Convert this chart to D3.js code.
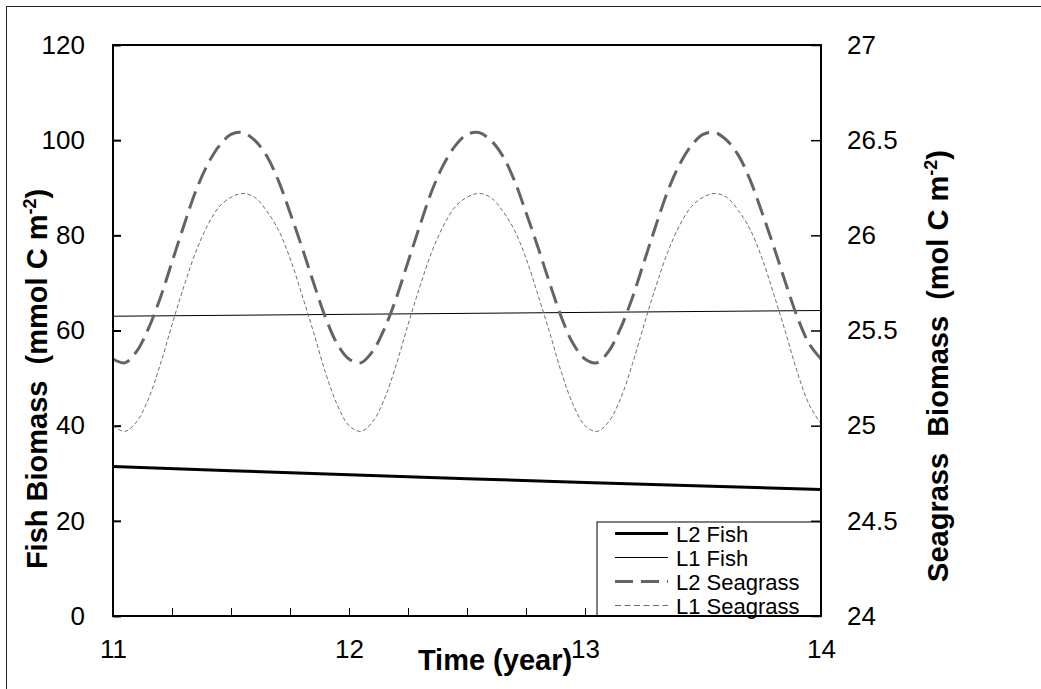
<!DOCTYPE html>
<html>
<head>
<meta charset="utf-8">
<script src="https://cdn.jsdelivr.net/npm/d3@7"></script>
<style>
  html, body { margin: 0; padding: 0; background: #fff; }
  svg { display: block; font-family: Arial, "Liberation Sans", sans-serif; }
  .tick text { font-size: 26px; fill: #000; }
</style>
</head>
<body>
<div id="chart"></div>
<script>
// ---- data ----
const FISH_TIME = [11, 11.5, 12, 12.5, 13, 13.5, 14];
const L2_FISH = [31.4, 30.55, 29.7, 28.85, 28.05, 27.3, 26.6];
const L1_FISH = [63.0, 63.2, 63.4, 63.6, 63.8, 64.0, 64.2];

const GRASS_TIME = [
  11.00, 11.05, 11.10, 11.15, 11.20, 11.25, 11.30, 11.35, 11.40, 11.45,
  11.50, 11.55, 11.60, 11.65, 11.70, 11.75, 11.80, 11.85, 11.90, 11.95,
  12.00, 12.05, 12.10, 12.15, 12.20, 12.25, 12.30, 12.35, 12.40, 12.45,
  12.50, 12.55, 12.60, 12.65, 12.70, 12.75, 12.80, 12.85, 12.90, 12.95,
  13.00, 13.05, 13.10, 13.15, 13.20, 13.25, 13.30, 13.35, 13.40, 13.45,
  13.50, 13.55, 13.60, 13.65, 13.70, 13.75, 13.80, 13.85, 13.90, 13.95,
  14.00
];
const L2_SEAGRASS = [
  25.35, 25.33, 25.39, 25.51, 25.67, 25.86, 26.05, 26.23, 26.37, 26.47,
  26.53, 26.54, 26.50, 26.42, 26.29, 26.12, 25.94, 25.75, 25.57, 25.43,
  25.35, 25.33, 25.39, 25.51, 25.67, 25.86, 26.05, 26.23, 26.37, 26.47,
  26.53, 26.54, 26.50, 26.42, 26.29, 26.12, 25.94, 25.75, 25.57, 25.43,
  25.35, 25.33, 25.39, 25.51, 25.67, 25.86, 26.05, 26.23, 26.37, 26.47,
  26.53, 26.54, 26.50, 26.42, 26.29, 26.12, 25.94, 25.75, 25.57, 25.43,
  25.35
];
const L1_SEAGRASS = [
  25.00, 24.97, 25.02, 25.14, 25.32, 25.53, 25.73, 25.91, 26.05, 26.15,
  26.20, 26.22, 26.20, 26.13, 26.03, 25.88, 25.69, 25.49, 25.28, 25.11,
  25.00, 24.97, 25.02, 25.14, 25.32, 25.53, 25.73, 25.91, 26.05, 26.15,
  26.20, 26.22, 26.20, 26.13, 26.03, 25.88, 25.69, 25.49, 25.28, 25.11,
  25.00, 24.97, 25.02, 25.14, 25.32, 25.53, 25.73, 25.91, 26.05, 26.15,
  26.20, 26.22, 26.20, 26.13, 26.03, 25.88, 25.69, 25.49, 25.28, 25.11,
  25.01
];

const X_TICKS = [11, 11.25, 11.5, 11.75, 12, 12.25, 12.5, 12.75, 13, 13.25, 13.5, 13.75, 14];
const YL_TICKS = [0, 20, 40, 60, 80, 100, 120];
const YR_TICKS = [24, 24.5, 25, 25.5, 26, 26.5, 27];

const LEGEND = [
  { label: "L2 Fish",     stroke: "#000",    width: 3,   dash: null },
  { label: "L1 Fish",     stroke: "#000",    width: 1,   dash: null },
  { label: "L2 Seagrass", stroke: "#646464", width: 3,   dash: "18,8" },
  { label: "L1 Seagrass", stroke: "#6e6e6e", width: 1,   dash: "6,3.5" }
];

// ---- layout ----
const W = 1041, H = 689;
const margin = { top: 45, right: 220, bottom: 73, left: 113 };
const innerW = W - margin.left - margin.right;   // 708
const innerH = H - margin.top - margin.bottom;   // 571

const svg = d3.select("#chart").append("svg")
  .attr("width", W)
  .attr("height", H);

// outer border (top + left only)
svg.append("line")
  .attr("x1", 6).attr("x2", W).attr("y1", 6.5).attr("y2", 6.5)
  .attr("stroke", "#222").attr("stroke-width", 1);
svg.append("line")
  .attr("x1", 6.5).attr("x2", 6.5).attr("y1", 6).attr("y2", H)
  .attr("stroke", "#222").attr("stroke-width", 1);

const g = svg.append("g")
  .attr("transform", `translate(${margin.left},${margin.top})`);

const x = d3.scaleLinear().domain([11, 14]).range([0, innerW]);
const yL = d3.scaleLinear().domain([0, 120]).range([innerH, 0]);
const yR = d3.scaleLinear().domain([24, 27]).range([innerH, 0]);

// axes
const axL = g.append("g")
  .call(d3.axisLeft(yL).tickValues(YL_TICKS).tickSize(-8).tickPadding(28));
const axR = g.append("g")
  .attr("transform", `translate(${innerW},0)`)
  .call(d3.axisRight(yR).tickValues(YR_TICKS).tickSize(-10).tickPadding(26)
    .tickFormat(d3.format("")));
const axB = g.append("g")
  .attr("transform", `translate(0,${innerH})`)
  .call(d3.axisBottom(x).tickValues(X_TICKS).tickSize(-8).tickPadding(24)
    .tickFormat(d => Number.isInteger(d) ? d : ""));

[axL, axR, axB].forEach(a => {
  a.select(".domain").remove();
  a.selectAll(".tick line").attr("stroke", "#000");
});
axL.selectAll(".tick line").attr("stroke-width", 2);
axR.selectAll(".tick line").attr("stroke-width", 1.5);
axB.selectAll(".tick line").attr("stroke-width", 1);
[axL, axR, axB].forEach(a => a.attr("font-size", null).attr("font-family", null));

// series
const fishLine = yScale => d3.line()
  .x((d, i) => x(FISH_TIME[i]))
  .y(d => yScale(d));

const grassLine = d3.line()
  .x((d, i) => x(GRASS_TIME[i]))
  .y(d => yR(d))
  .curve(d3.curveCatmullRom);

g.append("path").datum(L2_FISH)
  .attr("d", fishLine(yL))
  .attr("fill", "none").attr("stroke", LEGEND[0].stroke).attr("stroke-width", LEGEND[0].width);

g.append("path").datum(L1_FISH)
  .attr("d", fishLine(yL))
  .attr("fill", "none").attr("stroke", LEGEND[1].stroke).attr("stroke-width", LEGEND[1].width);

g.append("path").datum(L2_SEAGRASS)
  .attr("d", grassLine)
  .attr("fill", "none").attr("stroke", LEGEND[2].stroke).attr("stroke-width", LEGEND[2].width)
  .attr("stroke-dasharray", LEGEND[2].dash);

g.append("path").datum(L1_SEAGRASS)
  .attr("d", grassLine)
  .attr("fill", "none").attr("stroke", LEGEND[3].stroke).attr("stroke-width", LEGEND[3].width)
  .attr("stroke-dasharray", "4,2.5");

// legend
const lg = g.append("g")
  .attr("transform", `translate(${484},${477})`);

lg.append("rect")
  .attr("x", 0).attr("y", 0)
  .attr("width", innerW - 484).attr("height", innerH - 477)
  .attr("fill", "#fff").attr("stroke", "#000").attr("stroke-width", 1);

const items = lg.selectAll(".legend-item")
  .data(LEGEND)
  .enter()
  .append("g")
  .attr("class", "legend-item")
  .attr("transform", (d, i) => `translate(0,${11.5 + i * 24})`);

items.append("line")
  .attr("x1", 18).attr("x2", 71)
  .attr("y1", 0).attr("y2", 0)
  .attr("stroke", d => d.stroke)
  .attr("stroke-width", d => d.width)
  .attr("stroke-dasharray", d => d.dash);

items.append("text")
  .attr("x", 79)
  .attr("y", 8)
  .attr("font-size", 22)
  .attr("fill", "#000")
  .text(d => d.label);

// plot frame
g.append("rect")
  .attr("x", 0).attr("y", 0)
  .attr("width", innerW).attr("height", innerH)
  .attr("fill", "none").attr("stroke", "#000").attr("stroke-width", 2);

// axis titles
const leftTitle = svg.append("text")
  .attr("transform", "translate(47,379) rotate(-90)")
  .attr("text-anchor", "middle")
  .attr("font-size", 29)
  .attr("font-weight", "bold")
  .style("white-space", "pre");
leftTitle.append("tspan").text("Fish Biomass  (mmol C m");
leftTitle.append("tspan").attr("font-size", 18).attr("dy", -11).text("-2");
leftTitle.append("tspan").attr("dy", 11).text(")");

const rightTitle = svg.append("text")
  .attr("transform", "translate(948,366) rotate(-90)")
  .attr("text-anchor", "middle")
  .attr("font-size", 29)
  .attr("font-weight", "bold")
  .style("white-space", "pre");
rightTitle.append("tspan").text("Seagrass  Biomass  (mol C m");
rightTitle.append("tspan").attr("font-size", 18).attr("dy", -11).text("-2");
rightTitle.append("tspan").attr("dy", 11).text(")");

svg.append("text")
  .attr("x", 495)
  .attr("y", 670)
  .attr("text-anchor", "middle")
  .attr("font-size", 29)
  .attr("font-weight", "bold")
  .text("Time (year)");
</script>
</body>
</html>
